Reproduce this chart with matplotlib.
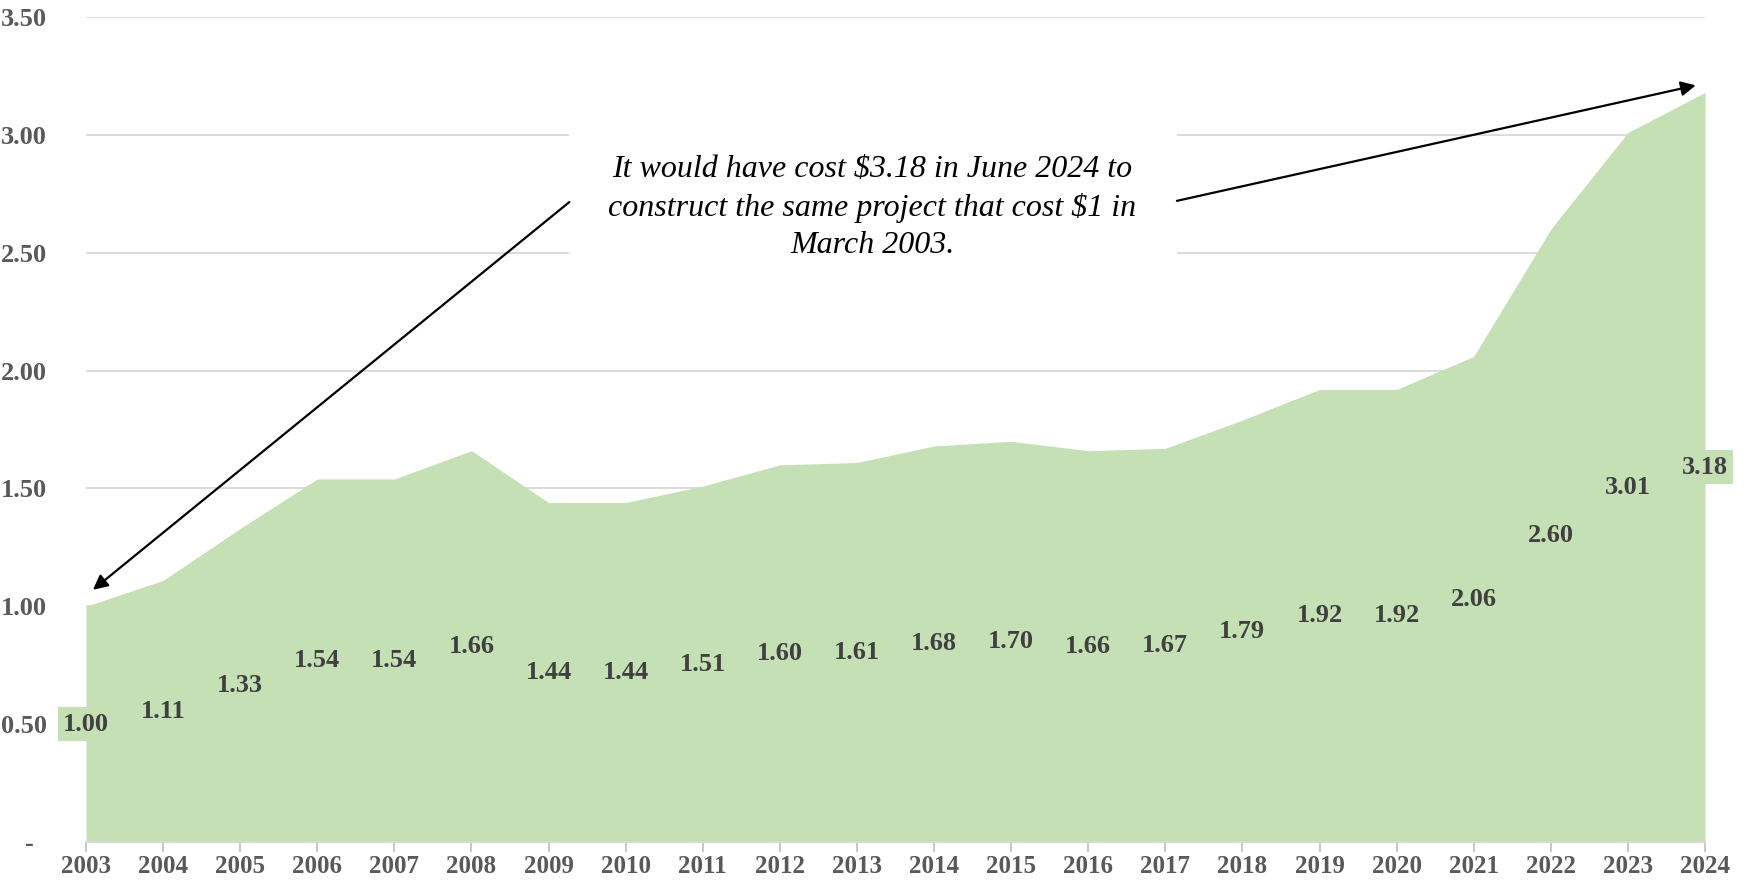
import matplotlib
matplotlib.use("Agg")
import matplotlib.pyplot as plt
from matplotlib.patches import Rectangle

years = list(range(2003, 2025))
cost_index = [1.00, 1.11, 1.33, 1.54, 1.54, 1.66, 1.44, 1.44, 1.51, 1.60, 1.61,
              1.68, 1.70, 1.66, 1.67, 1.79, 1.92, 1.92, 2.06, 2.60, 3.01, 3.18]
y_ticks = [0, 0.5, 1.0, 1.5, 2.0, 2.5, 3.0, 3.5]
y_tick_labels = ["-  ", "0.50", "1.00", "1.50", "2.00", "2.50", "3.00", "3.50"]
note = ("It would have cost \\$3.18 in June 2024 to\n"
        "construct the same project that cost \\$1 in\n"
        "March 2003.")

GREEN = "#C5E0B4"
GRID = "#D9D9D9"

fig = plt.figure(figsize=(17.5, 8.82), dpi=100)
ax = fig.add_axes([86 / 1750, 40 / 882, 1619 / 1750, 825 / 882])

ax.fill_between(years, cost_index, 0, color=GREEN, lw=0, zorder=2)

# labels sit in the middle of the filled area, like excel's "center" option
for yr, v in zip(years, cost_index):
    ax.text(yr, v / 2, f"{v:.2f}", ha="center", va="center",
            fontsize=19, fontweight="bold", family="Liberation Serif",
            color="#404040", zorder=4,
            bbox=dict(boxstyle="square,pad=0.2", fc=GREEN, ec="none"))

ax.set_xlim(years[0], years[-1])
ax.set_ylim(0, 3.5)
ax.set_xticks(years)
ax.set_xticklabels([str(y) for y in years])
ax.set_yticks(y_ticks)
ax.set_yticklabels(y_tick_labels)
for lbl in ax.get_xticklabels():
    lbl.set_fontsize(18)
for lbl in ax.get_yticklabels():
    lbl.set_fontsize(19)
for lbl in ax.get_xticklabels() + ax.get_yticklabels():
    lbl.set_family("Liberation Serif")
    lbl.set_fontweight("bold")
    lbl.set_color("#595959")

ax.tick_params(axis="x", length=7, color="#BFBFBF", width=1.2, pad=2.5)
ax.tick_params(axis="y", length=0, pad=28)
ax.grid(axis="y", color=GRID, lw=1.3, zorder=0)
ax.set_axisbelow(True)
for side in ["top", "right", "left"]:
    ax.spines[side].set_visible(False)
ax.spines["bottom"].set_color(GRID)
ax.spines["bottom"].set_linewidth(1.3)

# white panel behind the note hides the gridlines
ax.add_patch(Rectangle((2009.27, 2.35), 7.88, 0.77, fc="white", ec="none", zorder=1))
ax.text(2013.2, 2.69, note, ha="center", va="center", fontsize=23,
        style="italic", family="Liberation Serif", color="black",
        linespacing=1.38, zorder=5)

arrow = dict(arrowstyle="-|>", color="black", lw=1.6, mutation_scale=22,
             shrinkA=0, shrinkB=0)
ax.annotate("", xy=(2003.09, 1.07), xytext=(2009.27, 2.715), arrowprops=arrow, zorder=5)
ax.annotate("", xy=(2023.88, 3.21), xytext=(2017.15, 2.72), arrowprops=arrow, zorder=5)

fig.savefig("out.png", dpi=100)
